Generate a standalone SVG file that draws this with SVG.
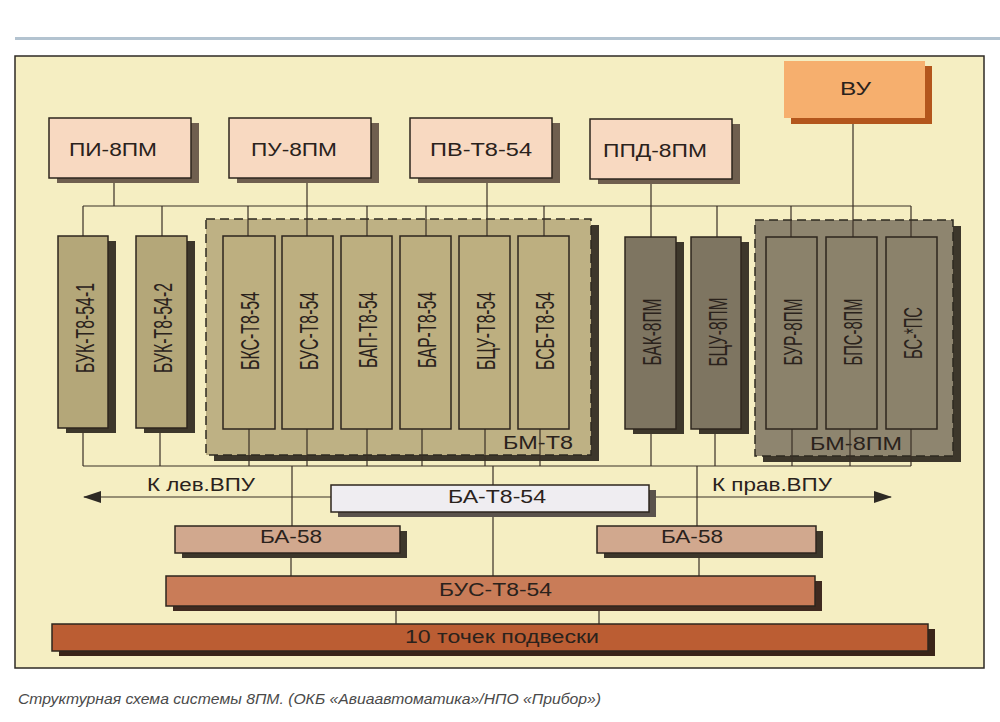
<svg xmlns="http://www.w3.org/2000/svg" width="1000" height="722" viewBox="0 0 1000 722">
<style>
.frame{fill:#f5eec2;stroke:#2e2a24;stroke-width:1.5}
.ln{fill:none;stroke:#3a3026;stroke-width:1.2}
.bx{stroke:#2e261e;stroke-width:1.5}
.top{fill:#f8d9c1}
.topsh{fill:#6f5f4f}
.vu{fill:#f6af6e}
.vush{fill:#b3561c}
.buk{fill:#b4a779}
.sh{fill:#3d372b}
.g1{fill:#beb184;stroke:#2e2a20;stroke-width:1.5;stroke-dasharray:9 5}
.in1{fill:#bdaf80}
.dk{fill:#7e7561}
.g2{fill:#8e856f;stroke:#2e2a20;stroke-width:1.5;stroke-dasharray:9 5}
.in2{fill:#8b826b}
.ba{fill:#efedf1}
.ba58{fill:#d1a88e}
.bus{fill:#c97c58}
.pts{fill:#bb5d33}
.t{font-family:"Liberation Sans",Arial,sans-serif;fill:#2a221c;font-size:18px}
.tv{font-family:"Liberation Sans Narrow","Liberation Sans",Arial,sans-serif;fill:#2a221c;font-size:25px;text-anchor:middle}
.cap{font-family:"Liberation Sans",Arial,sans-serif;font-style:italic;fill:#4a4a4a;font-size:15px}
</style>
<defs>
<marker id="ah" viewBox="0 0 18 12" refX="17" refY="6" markerWidth="18" markerHeight="12" markerUnits="userSpaceOnUse" orient="auto">
<path d="M0,0 L18,6 L0,12 Z" fill="#2e2a24"/>
</marker>
</defs>
<rect width="1000" height="722" fill="#ffffff"/>
<rect x="15" y="37" width="985" height="3" fill="#b3c3d0"/>
<rect class="frame" x="15" y="56" width="969" height="612"/>

<g id="grp-bm-t8">
<rect x="214" y="225" width="385" height="236" class="sh"/>
<rect x="206" y="219" width="385" height="236" class="g1"/>
<text class="t" x="503" y="449" textLength="70" lengthAdjust="spacingAndGlyphs">БМ-Т8</text>
</g>
<g id="grp-bm-8pm">
<rect x="763" y="226" width="198" height="236" class="sh"/>
<rect x="755" y="220" width="198" height="236" class="g2"/>
<text class="t" x="810" y="450" textLength="92" lengthAdjust="spacingAndGlyphs">БМ-8ПМ</text>
</g>

<g id="connectors" class="ln">
<path d="M114,178V206 M307,178V236 M487,178V236 M651,179V237 M853,124V237"/>
<path d="M83,206H911"/>
<path d="M83,206V236 M162,206V236 M248,206V236 M367,206V236 M426,206V236 M544,206V236 M717,206V237 M791,206V237 M911,206V237"/>
<path d="M83,428V466 M160,428V466 M249,429V466 M307,429V466 M367,429V466 M422,429V466 M485,429V466 M540,429V466 M651,429V466 M715,429V466 M792,429V466 M850,429V466 M911,429V466"/>
<path d="M83,466H911"/>
<path d="M292,466V526 M493,466V576 M697,466V526"/>
<path d="M291,553V576 M699,553V576"/>
<path d="M396,606V624 M599,606V624"/>
<path d="M331,497H84" marker-end="url(#ah)"/>
<path d="M649,497H891" marker-end="url(#ah)"/>
</g>

<g id="n-pi">
<rect x="57" y="123" width="142" height="60" class="topsh"/>
<rect x="49" y="118" width="142" height="60" class="bx top"/>
<text class="t" x="69" y="156" textLength="88" lengthAdjust="spacingAndGlyphs">ПИ-8ПМ</text>
</g>
<g id="n-pu">
<rect x="237" y="123" width="142" height="60" class="topsh"/>
<rect x="229" y="118" width="142" height="60" class="bx top"/>
<text class="t" x="251" y="156" textLength="86" lengthAdjust="spacingAndGlyphs">ПУ-8ПМ</text>
</g>
<g id="n-pv">
<rect x="418" y="123" width="142" height="60" class="topsh"/>
<rect x="410" y="118" width="142" height="60" class="bx top"/>
<text class="t" x="430" y="156" textLength="102" lengthAdjust="spacingAndGlyphs">ПВ-Т8-54</text>
</g>
<g id="n-ppd">
<rect x="598" y="124" width="142" height="60" class="topsh"/>
<rect x="590" y="119" width="142" height="60" class="bx top"/>
<text class="t" x="603" y="157" textLength="104" lengthAdjust="spacingAndGlyphs">ППД-8ПМ</text>
</g>
<g id="n-vu">
<rect x="791" y="66" width="141" height="58" class="vush"/>
<rect x="784" y="61" width="141" height="57" class="vu"/>
<text class="t" x="840" y="95" textLength="31" lengthAdjust="spacingAndGlyphs">ВУ</text>
</g>

<g id="n-buk1">
<rect x="66" y="241" width="50" height="192" class="sh"/>
<rect x="58" y="236" width="50" height="192" class="bx buk"/>
<text class="tv" transform="translate(94,328) rotate(-90)" textLength="90" lengthAdjust="spacingAndGlyphs">БУК-Т8-54-1</text>
</g>
<g id="n-buk2">
<rect x="144" y="241" width="51" height="192" class="sh"/>
<rect x="136" y="236" width="51" height="192" class="bx buk"/>
<text class="tv" transform="translate(172,328) rotate(-90)" textLength="90" lengthAdjust="spacingAndGlyphs">БУК-Т8-54-2</text>
</g>
<g id="n-bks">
<rect x="223" y="236" width="52" height="193" class="bx in1"/>
<text class="tv" transform="translate(259,331) rotate(-90)" textLength="78" lengthAdjust="spacingAndGlyphs">БКС-Т8-54</text>
</g>
<g id="n-bus1">
<rect x="282" y="236" width="51" height="193" class="bx in1"/>
<text class="tv" transform="translate(318,331) rotate(-90)" textLength="78" lengthAdjust="spacingAndGlyphs">БУС-Т8-54</text>
</g>
<g id="n-bap">
<rect x="341" y="236" width="51" height="193" class="bx in1"/>
<text class="tv" transform="translate(377,330) rotate(-90)" textLength="76" lengthAdjust="spacingAndGlyphs">БАП-Т8-54</text>
</g>
<g id="n-bar">
<rect x="400" y="236" width="51" height="193" class="bx in1"/>
<text class="tv" transform="translate(436,330) rotate(-90)" textLength="76" lengthAdjust="spacingAndGlyphs">БАР-Т8-54</text>
</g>
<g id="n-bcu1">
<rect x="459" y="236" width="51" height="193" class="bx in1"/>
<text class="tv" transform="translate(495,331) rotate(-90)" textLength="78" lengthAdjust="spacingAndGlyphs">БЦУ-Т8-54</text>
</g>
<g id="n-bsb">
<rect x="518" y="236" width="51" height="193" class="bx in1"/>
<text class="tv" transform="translate(554,331) rotate(-90)" textLength="78" lengthAdjust="spacingAndGlyphs">БСБ-Т8-54</text>
</g>
<g id="n-bak">
<rect x="633" y="242" width="51" height="192" class="sh"/>
<rect x="625" y="237" width="51" height="192" class="bx dk"/>
<text class="tv" transform="translate(661,332) rotate(-90)" textLength="67" lengthAdjust="spacingAndGlyphs">БАК-8ПМ</text>
</g>
<g id="n-bcu2">
<rect x="699" y="242" width="50" height="192" class="sh"/>
<rect x="691" y="237" width="50" height="192" class="bx dk"/>
<text class="tv" transform="translate(727,332) rotate(-90)" textLength="69" lengthAdjust="spacingAndGlyphs">БЦУ-8ПМ</text>
</g>
<g id="n-bur">
<rect x="766" y="237" width="51" height="192" class="bx in2"/>
<text class="tv" transform="translate(802,332) rotate(-90)" textLength="67" lengthAdjust="spacingAndGlyphs">БУР-8ПМ</text>
</g>
<g id="n-bps">
<rect x="826" y="237" width="51" height="192" class="bx in2"/>
<text class="tv" transform="translate(862,332) rotate(-90)" textLength="67" lengthAdjust="spacingAndGlyphs">БПС-8ПМ</text>
</g>
<g id="n-bs">
<rect x="886" y="237" width="51" height="192" class="bx in2"/>
<text class="tv" transform="translate(922,333) rotate(-90)" textLength="52" lengthAdjust="spacingAndGlyphs">БС-*ПС</text>
</g>

<text class="t" x="147" y="491" font-size="16" textLength="108" lengthAdjust="spacingAndGlyphs">К лев.ВПУ</text>
<text class="t" x="712" y="491" font-size="16" textLength="120" lengthAdjust="spacingAndGlyphs">К прав.ВПУ</text>

<g id="n-ba">
<rect x="338" y="490" width="318" height="27" fill="#5a524c"/>
<rect x="331" y="485" width="318" height="27" class="bx ba"/>
<text class="t" x="448" y="503" font-size="17" textLength="98" lengthAdjust="spacingAndGlyphs">БА-Т8-54</text>
</g>
<g id="n-ba58l">
<rect x="182" y="531" width="225" height="27" class="sh"/>
<rect x="175" y="526" width="225" height="27" class="bx ba58"/>
<text class="t" x="260" y="543" font-size="17" textLength="62" lengthAdjust="spacingAndGlyphs">БА-58</text>
</g>
<g id="n-ba58r">
<rect x="604" y="531" width="219" height="27" class="sh"/>
<rect x="597" y="526" width="219" height="27" class="bx ba58"/>
<text class="t" x="661" y="543" font-size="17" textLength="62" lengthAdjust="spacingAndGlyphs">БА-58</text>
</g>
<g id="n-bus2">
<rect x="173" y="581" width="649" height="30" fill="#3f2a20"/>
<rect x="166" y="576" width="649" height="30" class="bx bus"/>
<text class="t" x="439" y="596" font-size="17" textLength="113" lengthAdjust="spacingAndGlyphs">БУС-Т8-54</text>
</g>
<g id="n-pts">
<rect x="59" y="629" width="876" height="27" fill="#3a2418"/>
<rect x="52" y="624" width="876" height="27" class="bx pts"/>
<text class="t" x="405" y="643" font-size="17" textLength="194" lengthAdjust="spacingAndGlyphs">10 точек подвески</text>
</g>

<text class="cap" x="18" y="704" textLength="583" lengthAdjust="spacingAndGlyphs">Структурная схема системы 8ПМ. (ОКБ «Авиаавтоматика»/НПО «Прибор»)</text>
</svg>
